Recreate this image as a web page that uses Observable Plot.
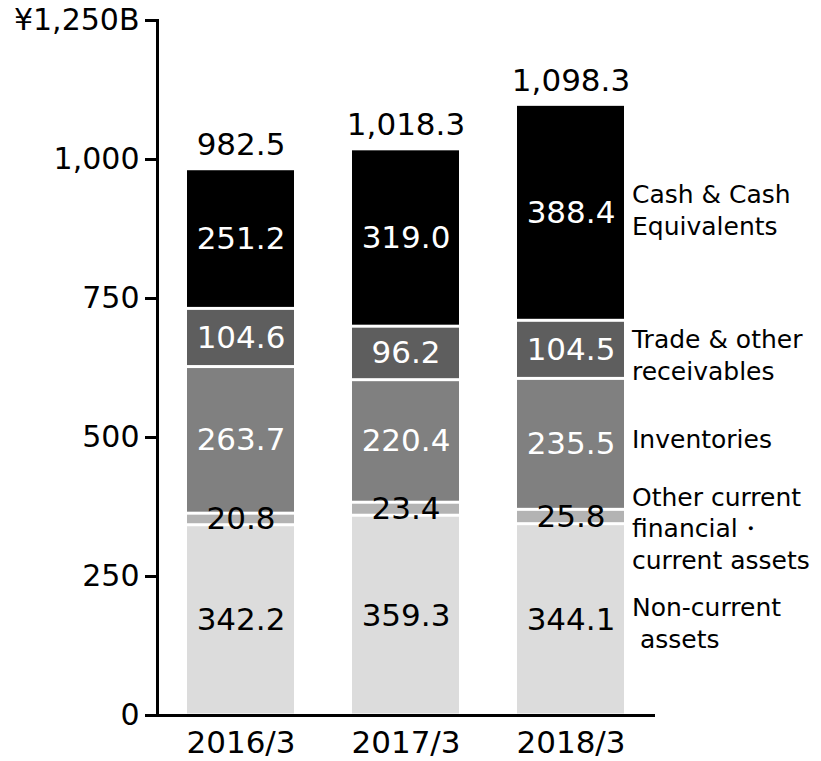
<!DOCTYPE html>
<html>
<head>
<meta charset="utf-8">
<script src="https://cdn.jsdelivr.net/npm/d3@7"></script>
<script src="https://cdn.jsdelivr.net/npm/@observablehq/plot@0.6"></script>
<style>
  html, body { margin: 0; padding: 0; background: #fff; }
  #chart svg { display: block; }
</style>
</head>
<body>
<div id="chart"></div>
<script>
const years = ["2016/3", "2017/3", "2018/3"];
const seriesNames = ["Non-current assets", "Other current financial・current assets", "Inventories", "Trade & other receivables", "Cash & Cash Equivalents"];
const seriesLabels = ["Non-current\n\u00a0assets", "Other current\nfinancial・\ncurrent assets", "Inventories", "Trade & other\nreceivables", "Cash & Cash\nEquivalents"];
const nonCurrent = [342.2, 359.3, 344.1];
const otherCurrent = [20.8, 23.4, 25.8];
const inventories = [263.7, 220.4, 235.5];
const receivables = [104.6, 96.2, 104.5];
const cash = [251.2, 319.0, 388.4];
const totals = [982.5, 1018.3, 1098.3];
const yTicks = [0, 250, 500, 750, 1000, 1250];
const yTickLabels = ["0", "250", "500", "750", "1,000", "¥1,250B"];

const seriesValues = [nonCurrent, otherCurrent, inventories, receivables, cash];
const fills = ["#dcdcdc", "#b3b3b3", "#808080", "#5e5e5e", "#000000"];
const textFills = ["#000", "#000", "#fff", "#fff", "#fff"];

const rows = [];
seriesNames.forEach((s, si) => {
  years.forEach((yr, yi) => {
    rows.push({year: yr, series: s, si, value: seriesValues[si][yi]});
  });
});
const totalRows = years.map((yr, i) => ({year: yr, total: totals[i]}));

// series label positions: midpoints of the last bar's segments
const lastIdx = years.length - 1;
let acc = 0;
const labelRows = seriesNames.map((s, si) => {
  const v = seriesValues[si][lastIdx];
  const mid = acc + v / 2;
  acc += v;
  return {year: years[lastIdx], mid, label: seriesLabels[si], si};
});
const labelDy = [2, 10, -6, 4, -4];

const font = "'DejaVu Sans', Verdana, sans-serif";

const chart = Plot.plot({
  width: 821,
  height: 761,
  marginLeft: 157,
  marginRight: 166,
  marginTop: 20,
  marginBottom: 46,
  style: {fontFamily: font, fontSize: "30px", color: "#000", background: "#fff"},
  x: {domain: years, paddingInner: 0.35, paddingOuter: 0.18, label: null},
  y: {domain: [0, 1250], label: null},
  color: {domain: seriesNames, range: fills},
  marks: [
    Plot.barY(rows, Plot.stackY({
      x: "year", y: "value", z: "series", fill: "series",
      insetTop: 1.5, insetBottom: 1.5
    })),
    ...textFills.map((tf, si) =>
      Plot.text(rows, Plot.stackY({
        x: "year", y: "value", z: "series",
        text: d => d.si === si ? d.value.toFixed(1) : null,
        fill: tf, fontSize: 31
      }))
    ),
    Plot.text(totalRows, {
      x: "year", y: "total", text: d => d.total.toLocaleString("en-US", {minimumFractionDigits: 1, maximumFractionDigits: 1}),
      lineAnchor: "bottom", dy: -14, fontSize: 31, fill: "#000"
    }),
    ...labelRows.map((r, i) =>
      Plot.text([r], {
        x: "year", y: "mid", text: "label",
        textAnchor: "start", dx: 61, dy: labelDy[i],
        fontSize: 25, lineHeight: 1.26, fill: "#000"
      })
    ),
    Plot.axisY({
      ticks: yTicks, tickFormat: (d, i) => yTickLabels[yTicks.indexOf(d)],
      tickSize: 12, tickPadding: 6, strokeWidth: 3, fontSize: 30, label: null
    }),
    Plot.axisX({tickSize: 0, tickPadding: 15, fontSize: 31, label: null}),
    Plot.frame({anchor: "left", strokeWidth: 3}),
    Plot.ruleY([0], {strokeWidth: 3})
  ]
});
document.getElementById("chart").appendChild(chart);
</script>
</body>
</html>
